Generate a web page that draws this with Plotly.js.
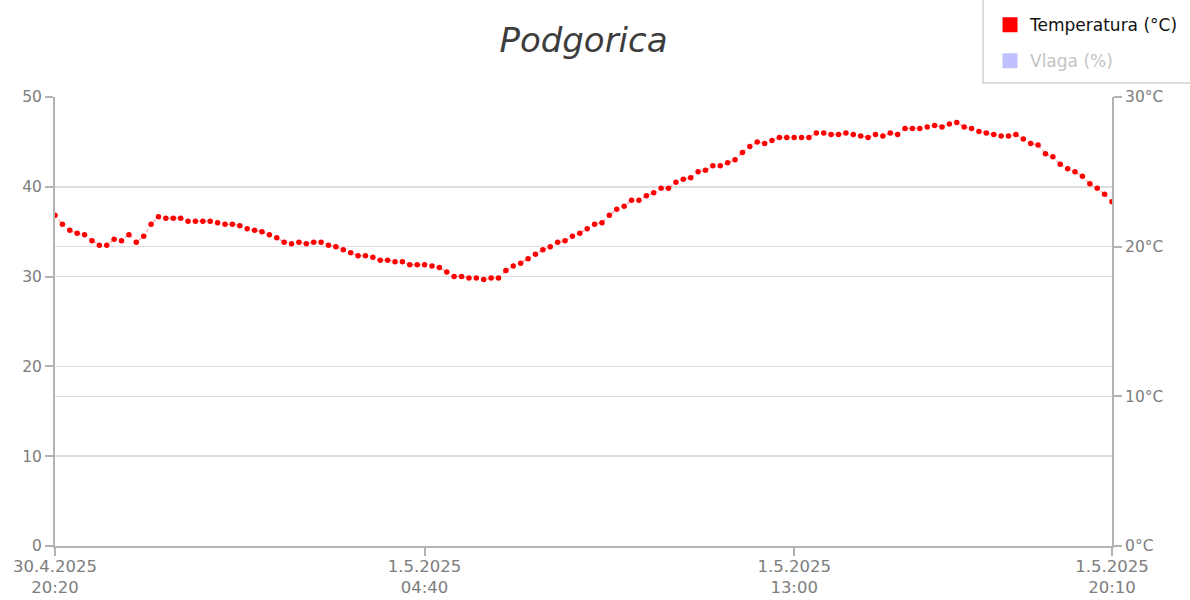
<!DOCTYPE html>
<html>
<head>
<meta charset="utf-8">
<script src="https://cdn.plot.ly/plotly-3.0.1.min.js"></script>
<style>html,body{margin:0;padding:0;background:#fff;}#chart{width:1190px;height:600px;}</style>
</head>
<body>
<div id="chart"></div>
<script>
// Time axis: readings every 10 minutes
const startTime = "2025-04-30T20:20:00";
const stepMinutes = 10;

// Temperature readings (°C), one per 10 minutes
const temperatura = [
  22.1, 21.5, 21.1, 20.9, 20.8, 20.4, 20.1, 20.1, 20.5, 20.4,
  20.8, 20.3, 20.7, 21.5, 22.0, 21.9, 21.9, 21.9, 21.7, 21.7,
  21.7, 21.7, 21.6, 21.5, 21.5, 21.4, 21.2, 21.1, 21.0, 20.8,
  20.6, 20.3, 20.2, 20.3, 20.2, 20.3, 20.3, 20.1, 20.0, 19.8,
  19.6, 19.4, 19.4, 19.3, 19.1, 19.1, 19.0, 19.0, 18.8, 18.8,
  18.8, 18.7, 18.6, 18.3, 18.0, 18.0, 17.9, 17.9, 17.8, 17.9,
  17.9, 18.4, 18.7, 18.9, 19.2, 19.5, 19.8, 20.0, 20.3, 20.4,
  20.7, 20.9, 21.2, 21.5, 21.6, 22.1, 22.5, 22.7, 23.1, 23.1,
  23.4, 23.6, 23.9, 23.9, 24.3, 24.5, 24.6, 25.0, 25.1, 25.4,
  25.4, 25.6, 25.8, 26.3, 26.7, 27.0, 26.9, 27.1, 27.3, 27.3,
  27.3, 27.3, 27.3, 27.6, 27.6, 27.5, 27.5, 27.6, 27.5, 27.4,
  27.3, 27.5, 27.4, 27.6, 27.5, 27.9, 27.9, 27.9, 28.0, 28.1,
  28.0, 28.2, 28.3, 28.0, 27.9, 27.7, 27.6, 27.5, 27.4, 27.4,
  27.5, 27.2, 26.9, 26.8, 26.2, 26.0, 25.5, 25.2, 25.0, 24.7,
  24.2, 23.9, 23.5, 23.0
];

// X tick positions and labels
const xTickVals = ["2025-04-30 20:20", "2025-05-01 04:40", "2025-05-01 13:00", "2025-05-01 20:10"];
const xTickText = ["30.4.2025<br>20:20", "1.5.2025<br>04:40", "1.5.2025<br>13:00", "1.5.2025<br>20:10"];

// Axis ticks
const vlagaTicks = [0, 10, 20, 30, 40, 50];
const tempTicks = [0, 10, 20, 30];
const tempTickText = ["0°C", "10°C", "20°C", "30°C"];

function fmt(d) {
  const p = n => String(n).padStart(2, "0");
  return d.getFullYear() + "-" + p(d.getMonth() + 1) + "-" + p(d.getDate()) + " " + p(d.getHours()) + ":" + p(d.getMinutes());
}
const t0 = new Date(startTime);
const times = temperatura.map((_, i) => fmt(new Date(t0.getTime() + i * stepMinutes * 60000)));

const tickColor = "#7d7d7d";
const lineColor = "#b3b3b3";
const gridColor = "#dedede";
const font = "'DejaVu Sans', Verdana, sans-serif";

const traces = [
  {
    x: times, y: temperatura, yaxis: "y2", type: "scatter", mode: "lines+markers",
    line: {color: "rgba(255,60,60,0.45)", width: 1.5, dash: "dot"},
    marker: {color: "#ff0000", size: 5.5},
    showlegend: false, hoverinfo: "x+y"
  },
  {
    x: [null], y: [null], yaxis: "y2", type: "scatter", mode: "markers",
    name: "Temperatura (°C)", legendgroup: "t",
    marker: {symbol: "square", color: "#ff0000", size: 15}
  },
  {
    x: [null], y: [null], yaxis: "y", type: "scatter", mode: "markers",
    name: "<span style='color:#c4c4c4'>Vlaga (%)</span>", legendgroup: "v",
    marker: {symbol: "square", color: "#c0c0ff", size: 15}
  }
];

const layout = {
  width: 1190, height: 600,
  paper_bgcolor: "#ffffff", plot_bgcolor: "#ffffff",
  margin: {l: 55, r: 78, t: 97, b: 54, autoexpand: false},
  font: {family: font, color: tickColor},
  title: {
    text: "Podgorica", x: 0.5, xref: "paper", xanchor: "center",
    y: 0.933, yref: "container", yanchor: "middle",
    font: {family: font, size: 34, color: "#3d3d3d", style: "italic"}
  },
  xaxis: {
    type: "date", range: [xTickVals[0], xTickVals[3]],
    tickmode: "array", tickvals: xTickVals, ticktext: xTickText,
    ticks: "outside", ticklen: 8, tickwidth: 2, tickcolor: lineColor,
    showline: true, linecolor: lineColor, linewidth: 2,
    showgrid: false, zeroline: false, ticklabelstandoff: -4,
    tickfont: {size: 16.5, color: tickColor}
  },
  yaxis: {
    range: [0, 50], tickmode: "array", tickvals: vlagaTicks,
    ticks: "outside", ticklen: 8, tickwidth: 2, tickcolor: lineColor,
    showline: true, linecolor: lineColor, linewidth: 2,
    showgrid: true, gridcolor: gridColor, gridwidth: 1.5, zeroline: false,
    tickfont: {size: 15.5, color: tickColor}, fixedrange: true
  },
  yaxis2: {
    overlaying: "y", side: "right", range: [0, 30],
    tickmode: "array", tickvals: tempTicks, ticktext: tempTickText,
    ticks: "outside", ticklen: 8, tickwidth: 2, tickcolor: lineColor,
    showline: true, linecolor: lineColor, linewidth: 2,
    showgrid: true, gridcolor: gridColor, gridwidth: 1.5, zeroline: false,
    tickfont: {size: 15.5, color: tickColor}, fixedrange: true
  },
  showlegend: true,
  legend: {
    x: 0.8846, xanchor: "left", xref: "paper",
    y: 1.2, yanchor: "top", yref: "paper",
    bgcolor: "rgba(255,255,255,0)", borderwidth: 0,
    traceorder: "grouped", tracegroupgap: 11,
    font: {family: font, size: 17, color: "#111111"}
  },
  shapes: [
    {type: "rect", xref: "paper", yref: "paper", x0: 0.878, x1: 1.25, y0: 1.031, y1: 1.3,
     line: {color: "#d0d0d0", width: 1.5}, fillcolor: "rgba(0,0,0,0)", layer: "below"}
  ]
};

Plotly.newPlot("chart", traces, layout, {displayModeBar: false, staticPlot: true});
</script>
</body>
</html>
